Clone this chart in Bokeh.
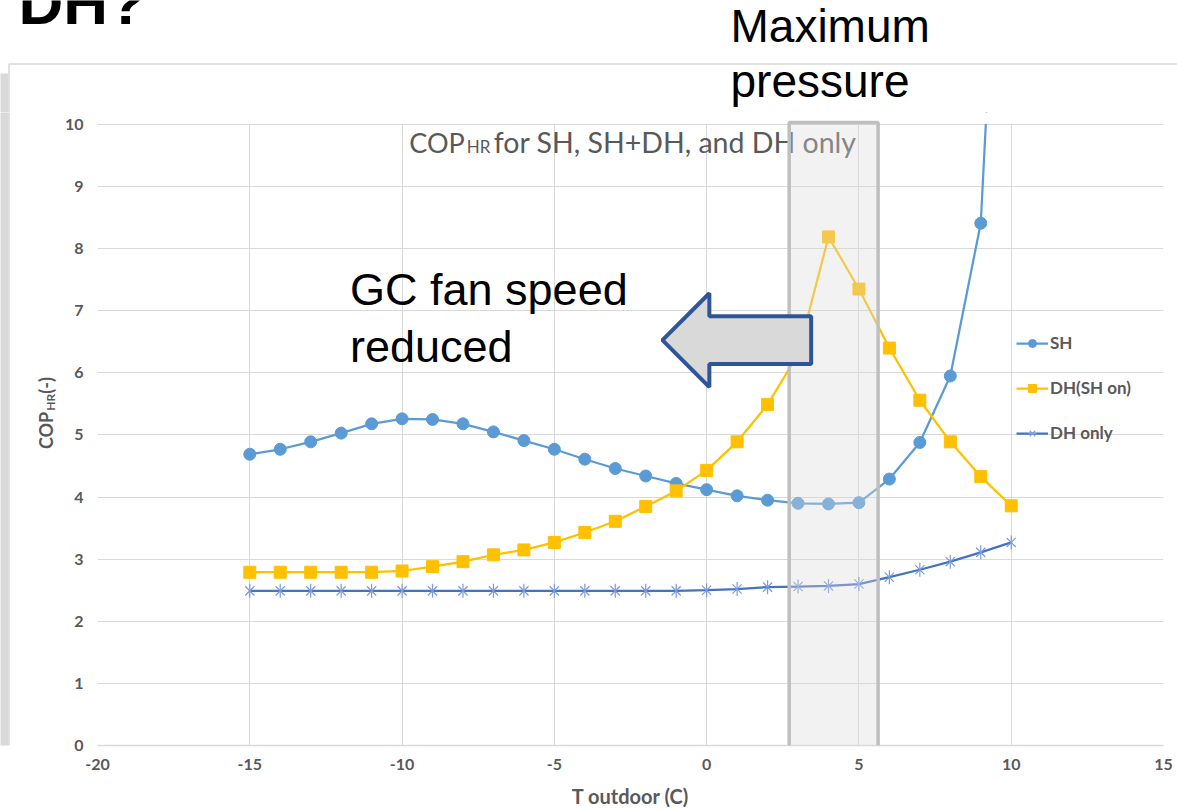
from bokeh.plotting import figure
from bokeh.layouts import column, row
from bokeh.models import (Range1d, FixedTicker, Label, BoxAnnotation, PolyAnnotation,
                          Legend, LegendItem)
from bokeh.embed import file_html
from bokeh.resources import INLINE
import math

# ---------------- data ----------------
t_outdoor = [-15, -14, -13, -12, -11, -10, -9, -8, -7, -6, -5, -4, -3, -2, -1,
             0, 1, 2, 3, 4, 5, 6, 7, 8, 9, 10]
cop_sh = [4.69, 4.77, 4.89, 5.03, 5.18, 5.26, 5.25, 5.18, 5.05, 4.91, 4.77, 4.61, 4.46,
          4.34, 4.22, 4.12, 4.02, 3.95, 3.90, 3.89, 3.91, 4.29, 4.88, 5.95, 8.41, 18.0]
cop_dh_sh_on = [2.79, 2.79, 2.79, 2.79, 2.79, 2.81, 2.88, 2.96, 3.07, 3.15, 3.27, 3.43, 3.61,
                3.85, 4.10, 4.43, 4.89, 5.49, 6.30, 8.19, 7.35, 6.40, 5.56, 4.89, 4.33, 3.86]
cop_dh_only = [2.49, 2.49, 2.49, 2.49, 2.49, 2.49, 2.49, 2.49, 2.49, 2.49, 2.49, 2.49, 2.49,
               2.49, 2.49, 2.50, 2.52, 2.55, 2.56, 2.57, 2.60, 2.71, 2.83, 2.96, 3.11, 3.27]
series_names = ["SH", "DH(SH on)", "DH only"]
x_ticks = [-20, -15, -10, -5, 0, 5, 10, 15]
x_tick_labels = ["-20", "-15", "-10", "-5", "0", "5", "10", "15"]
y_ticks = [0, 1, 2, 3, 4, 5, 6, 7, 8, 9, 10]
max_pressure_band = [2.71, 5.63]

# ---------------- page geometry ----------------
W, H = 1177, 810
TOP_H = 112          # height of the strip above the chart
LEFT_W = 61          # width of the strip left of the chart (holds y title)
FL, FR, FT, FB = 95, 1163, 124, 746   # plot area (0..10 / -20..15) in page pixels
def X(px):
    return -20 + (px - FL) * 35.0 / (FR - FL)
def Y(py):
    return (FB - py) * 10.0 / (FB - FT)
BASE_K = 0.4   # rendered alphabetic baseline sits ~0.4 em below the anchor
def base(py, size):
    return py - BASE_K * size

GRAY_TXT = "#595959"
GRID = "#D9D9D9"
SLIDE_GRAY = "#D9D9D9"

def blank(width, height):
    f = figure(width=width, height=height, x_range=Range1d(0, width),
               y_range=Range1d(0, height), x_axis_type=None, y_axis_type=None,
               min_border=0, output_backend="svg", toolbar_location=None)
    f.outline_line_color = None
    f.background_fill_color = "white"
    f.border_fill_color = "white"
    return f

# ---------------- top strip (slide title area) ----------------
top = blank(W, TOP_H)
ty = lambda py: TOP_H - py
top.add_layout(BoxAnnotation(left=-5, right=8, top=ty(73), bottom=-10,
                             fill_color=SLIDE_GRAY, fill_alpha=1, line_color=None))
top.add_layout(BoxAnnotation(left=8.5, right=W + 20, top=ty(63.5), bottom=-20,
                             fill_alpha=0, line_color=SLIDE_GRAY, line_alpha=1, line_width=1.5))
big = dict(text_font="Liberation Sans", text_color="black", text_baseline="alphabetic")
top.add_layout(Label(x=18, y=ty(base(26.5, 62)), text="DH?", text_font_size="62px",
                     text_font_style="bold", **big))
top.add_layout(Label(x=730, y=ty(base(43.5, 46)), text="Maximum", text_font_size="46px", **big))
top.add_layout(Label(x=730, y=ty(base(98.5, 46)), text="pressure", text_font_size="46px", **big))

# ---------------- left strip (y axis title) ----------------
LH = H - TOP_H
left = blank(LEFT_W, LH)
ly = lambda py: H - py
left.add_layout(BoxAnnotation(left=-5, right=8, top=LH + 10, bottom=-10,
                              fill_color=SLIDE_GRAY, fill_alpha=1, line_color=None))
left.add_layout(BoxAnnotation(left=8.5, right=LEFT_W + 20, top=LH + 20, bottom=-20,
                              fill_alpha=0, line_color=SLIDE_GRAY, line_alpha=1, line_width=1.5))
rot = dict(angle=math.pi / 2, text_font="Lato", text_font_style="bold",
           text_color=GRAY_TXT, text_baseline="alphabetic")
left.add_layout(Label(x=base(53, 18), y=ly(442), text="COP", text_font_size="18px",
                      text_align="right", **rot))
left.add_layout(Label(x=base(54.5, 12), y=ly(441), text="HR", text_font_size="12px", **rot))
left.add_layout(Label(x=base(53, 18), y=ly(422), text=" (-)", text_font_size="18px", **rot))

# ---------------- main chart ----------------
p = figure(width=W - LEFT_W, height=LH, x_range=Range1d(-20, 15), y_range=Range1d(0, Y(TOP_H)),
           output_backend="svg", toolbar_location=None,
           min_border_left=FL - LEFT_W, min_border_right=W - FR, min_border_top=0,
           min_border_bottom=H - FB)
p.outline_line_color = None
p.background_fill_color = "white"
p.border_fill_color = "white"

p.xaxis.ticker = FixedTicker(ticks=x_ticks)
p.xaxis.major_label_overrides = dict(zip(x_ticks, x_tick_labels))
p.yaxis.ticker = FixedTicker(ticks=y_ticks)
for ax in (p.xaxis, p.yaxis):
    ax.major_tick_line_color = None
    ax.minor_tick_line_color = None
    ax.major_tick_out = 0
    ax.major_label_text_font = "Lato"
    ax.major_label_text_font_style = "bold"
    ax.major_label_text_font_size = "16px"
    ax.major_label_text_color = GRAY_TXT
p.xaxis.axis_line_color = GRID
p.xaxis.axis_line_width = 1.3
p.yaxis.axis_line_color = None
p.xaxis.major_label_standoff = 13
p.yaxis.major_label_standoff = 14
p.xaxis.axis_label = "T outdoor (C)"
p.xaxis.axis_label_text_font = "Lato"
p.xaxis.axis_label_text_font_style = "bold"
p.xaxis.axis_label_text_font_size = "20px"
p.xaxis.axis_label_text_color = GRAY_TXT
p.xaxis.axis_label_standoff = 11

p.xgrid.ticker = FixedTicker(ticks=x_ticks)
p.ygrid.ticker = FixedTicker(ticks=y_ticks)
p.xgrid.grid_line_color = GRID
p.ygrid.grid_line_color = GRID

C_SH = "#5B9BD5"
C_DH = "#FFC000"
C_DHO = "#4472C4"

l1 = p.line(t_outdoor, cop_sh, line_color=C_SH, line_width=2.25)
m1 = p.scatter(t_outdoor, cop_sh, marker="circle", size=12, fill_color=C_SH, line_color=C_SH)
l2 = p.line(t_outdoor, cop_dh_sh_on, line_color=C_DH, line_width=2.25)
m2 = p.scatter(t_outdoor, cop_dh_sh_on, marker="square", size=12, fill_color=C_DH, line_color=C_DH)
l3 = p.line(t_outdoor, cop_dh_only, line_color=C_DHO, line_width=2.25)
m3a = p.scatter(t_outdoor, cop_dh_only, marker="x", size=13, line_color="#7C9BDB", line_width=1.2)
m3b = p.scatter(t_outdoor, cop_dh_only, marker="dash", angle=math.pi / 2, size=14,
                line_color="#7C9BDB", line_width=1.2)

# white cover above the 0..10 plot area (chart area ends at 10)
p.add_layout(BoxAnnotation(bottom=Y(123.4), fill_color="white", fill_alpha=1, line_color=None))

legend = Legend(items=[LegendItem(label=series_names[0], renderers=[l1, m1]),
                       LegendItem(label=series_names[1], renderers=[l2, m2]),
                       LegendItem(label=series_names[2], renderers=[l3, m3a, m3b])],
                location=(919, 302), glyph_width=32, glyph_height=20, label_height=20,
                spacing=24, padding=0, margin=0, label_standoff=2,
                background_fill_alpha=0, border_line_alpha=0,
                label_text_font="Lato", label_text_font_style="bold",
                label_text_font_size="17px", label_text_color=GRAY_TXT)
p.add_layout(legend)

# chart title inside the plot area
p.add_layout(Label(x=X(463), y=Y(base(152.5, 27)), text="COP", text_font="Lato",
                   text_font_size="27px", text_color=GRAY_TXT, text_baseline="alphabetic",
                   text_align="right"))
p.add_layout(Label(x=X(465), y=Y(base(152.5, 17)), text="HR", text_font="Lato",
                   text_font_size="17px", text_color=GRAY_TXT, text_baseline="alphabetic"))
p.add_layout(Label(x=X(492), y=Y(base(152.5, 28.5)), text="for SH, SH+DH, and DH only",
                   text_font="Lato", text_font_size="28.5px", text_color=GRAY_TXT,
                   text_baseline="alphabetic"))

# maximum pressure band
p.add_layout(BoxAnnotation(left=max_pressure_band[0], right=max_pressure_band[1],
                           top=Y(122), bottom=Y(757),
                           fill_color="#D9D9D9", fill_alpha=0.35,
                           line_color="#BFBFBF", line_alpha=1, line_width=3.5))

# arrow
arrow_x = [X(661), X(708), X(708), X(810), X(810), X(708), X(708)]
arrow_y = [Y(340), Y(293), Y(316), Y(316), Y(364), Y(364), Y(387)]
p.add_layout(PolyAnnotation(xs=arrow_x, ys=arrow_y, fill_color="#D9D9D9", fill_alpha=1,
                            line_color="#2F5597", line_alpha=1, line_width=4))

p.add_layout(Label(x=X(348), y=Y(base(307.5, 45)), text="GC fan speed",
                   text_font="Liberation Sans", text_font_size="45px", text_color="black",
                   text_baseline="alphabetic"))
p.add_layout(Label(x=X(348), y=Y(base(364.5, 45)), text="reduced",
                   text_font="Liberation Sans", text_font_size="45px", text_color="black",
                   text_baseline="alphabetic"))

layout = column(top, row(left, p, spacing=0), spacing=0)
open("out.html", "w").write(file_html(layout, INLINE))
